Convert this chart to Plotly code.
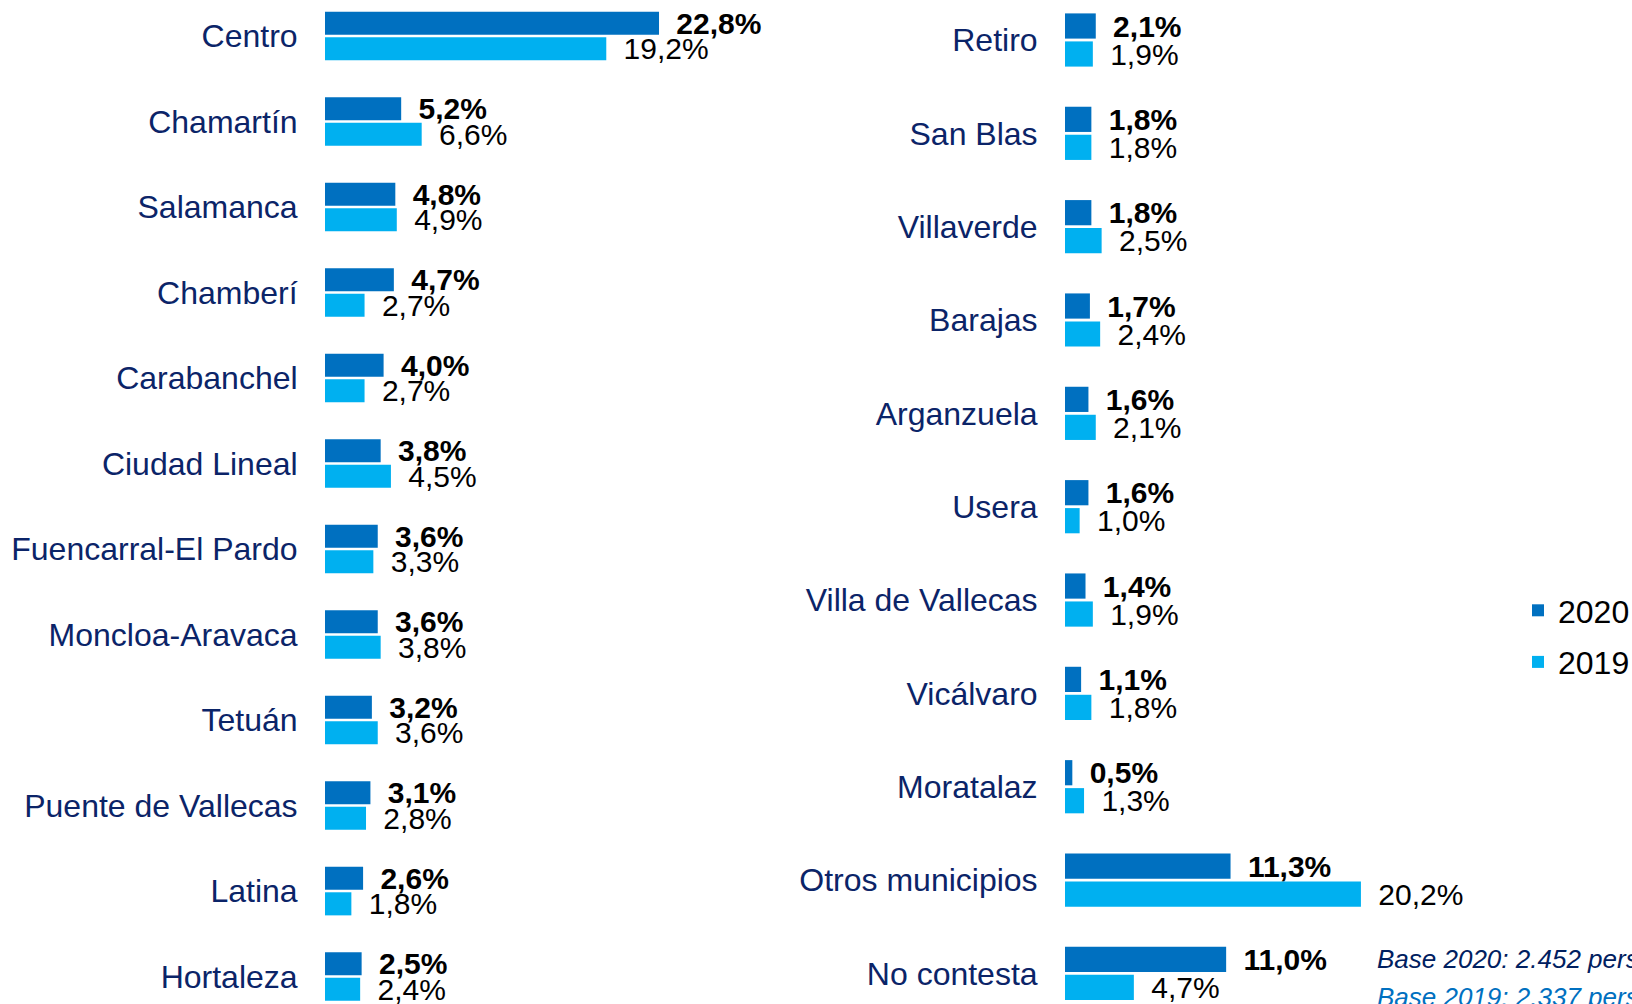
import plotly.graph_objects as go

left_cats = ["Centro", "Chamartín", "Salamanca", "Chamberí", "Carabanchel", "Ciudad Lineal",
             "Fuencarral-El Pardo", "Moncloa-Aravaca", "Tetuán", "Puente de Vallecas", "Latina", "Hortaleza"]
left_2020 = [22.8, 5.2, 4.8, 4.7, 4.0, 3.8, 3.6, 3.6, 3.2, 3.1, 2.6, 2.5]
left_2019 = [19.2, 6.6, 4.9, 2.7, 2.7, 4.5, 3.3, 3.8, 3.6, 2.8, 1.8, 2.4]

right_cats = ["Retiro", "San Blas", "Villaverde", "Barajas", "Arganzuela", "Usera",
              "Villa de Vallecas", "Vicálvaro", "Moratalaz", "Otros municipios", "No contesta"]
right_2020 = [2.1, 1.8, 1.8, 1.7, 1.6, 1.6, 1.4, 1.1, 0.5, 11.3, 11.0]
right_2019 = [1.9, 1.8, 2.5, 2.4, 2.1, 1.0, 1.9, 1.8, 1.3, 20.2, 4.7]

series_names = ["2020", "2019"]
base_notes = ["Base 2020: 2.452 personas", "Base 2019: 2.337 personas"]

C2020 = "#0070C0"
C2019 = "#00B0F0"
NAVY = "#0B2468"
FONT = "Liberation Sans, Arial, sans-serif"

W, H = 1632, 1004
fig = go.Figure()

GAP = "\u00a0\u2009"


def add_pair(cats, v20, v19, xa, ya, show):
    fig.add_trace(go.Bar(
        y=cats, x=v20, orientation="h", name=series_names[0], marker=dict(color=C2020, line=dict(width=0)),
        texttemplate=GAP + "%{x:.1f}%", textposition="outside", cliponaxis=False, constraintext="none",
        textfont=dict(family=FONT, size=30, color="black", weight="bold"),
        xaxis=xa, yaxis=ya, showlegend=show, legendgroup="g2020", hoverinfo="skip"))
    fig.add_trace(go.Bar(
        y=cats, x=v19, orientation="h", name=series_names[1], marker=dict(color=C2019, line=dict(width=0)),
        texttemplate=GAP + "%{x:.1f}%", textposition="outside", cliponaxis=False, constraintext="none",
        textfont=dict(family=FONT, size=30, color="black"),
        xaxis=xa, yaxis=ya, showlegend=show, legendgroup="g2019", hoverinfo="skip"))


add_pair(left_cats, left_2020, left_2019, "x", "y", True)
add_pair(right_cats, right_2020, right_2019, "x2", "y2", False)

ppu = 14.65
xmax = 28
lx0 = 325
rx0 = 1065
xw = ppu * xmax

# left pitch 85.5 px, first center at 36 px; right pitch 93.34, first center at 40 px
lp, lc = 85.5, 36.0
rp, rc = 93.34, 40.0

xaxis_common = dict(range=[0, xmax], showgrid=False, zeroline=False, showline=False,
                    showticklabels=False, ticks="", fixedrange=True)
yaxis_common = dict(type="category", showgrid=False, zeroline=False, showline=False,
                    ticks="outside", ticklen=20, tickcolor="rgba(0,0,0,0)",
                    tickfont=dict(family=FONT, size=32, color=NAVY), autorange=False,
                    domain=[0, 1])

fig.update_layout(
    width=W, height=H,
    margin=dict(l=0, r=0, t=0, b=0, pad=0, autoexpand=False),
    paper_bgcolor="white", plot_bgcolor="white",
    barmode="group", bargap=0.4, bargroupgap=0.1,
    separators=",.",
    xaxis=dict(domain=[lx0 / W, (lx0 + xw) / W], anchor="y", **xaxis_common),
    xaxis2=dict(domain=[rx0 / W, (rx0 + xw) / W], anchor="y2", **xaxis_common),
    yaxis=dict(anchor="x", categoryorder="array", categoryarray=left_cats,
               range=[(H - lc) / lp, -lc / lp], **yaxis_common),
    yaxis2=dict(anchor="x2", categoryorder="array", categoryarray=right_cats,
                range=[(H - rc) / rp, -rc / rp], **yaxis_common),
    legend=dict(x=1518 / W, xanchor="left", y=1 - 636.5 / H, yanchor="middle",
                font=dict(family=FONT, size=32, color="black"),
                tracegroupgap=7, bgcolor="rgba(0,0,0,0)", borderwidth=0),
    showlegend=True,
)

fig.add_annotation(x=1375 / W, y=1 - 959 / H, xref="paper", yref="paper", xanchor="left", yanchor="middle",
                   text=base_notes[0], showarrow=False,
                   font=dict(family=FONT, size=26, color="#002060", style="italic"))
fig.add_annotation(x=1375 / W, y=1 - 997 / H, xref="paper", yref="paper", xanchor="left", yanchor="middle",
                   text=base_notes[1], showarrow=False,
                   font=dict(family=FONT, size=26, color=C2020, style="italic"))

fig.write_html("out.html", config={"displayModeBar": False},
               post_script="document.body.style.margin='0';document.body.style.overflow='hidden';")
